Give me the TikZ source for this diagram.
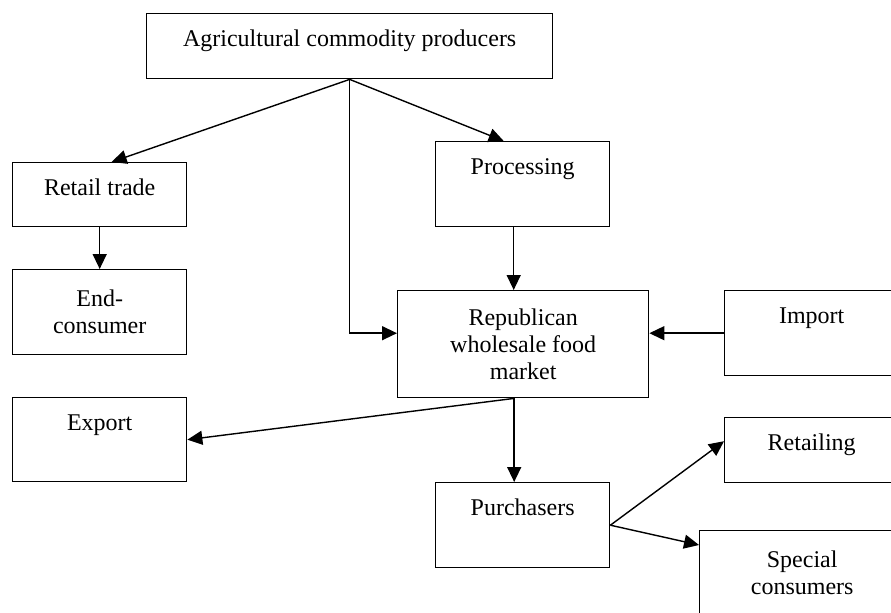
\documentclass[tikz,border=0pt]{standalone}
\usepackage{fontspec}
\setmainfont{Liberation Serif}
\usetikzlibrary{arrows.meta}
\tikzset{
    box/.style={draw, line width=0.8pt, inner sep=0pt, anchor=north west, align=center,
        font=\fontsize{13.66pt}{15.37pt}\selectfont},
    topbox/.style={box, text height=0.66cm, text depth=#1},
    arr/.style={line width=0.8pt, -{Triangle[length=0.3cm, width=0.28cm]}}
}

\begin{document}
\begin{tikzpicture}[x=0.02cm, y=-0.02cm]
    \clip (0,0) rectangle (891,612);

    % boxes
    \node[topbox=0.64cm, minimum width=8.12cm] (prod) at (146,13) {Agricultural commodity producers};
    \node[topbox=0.62cm, minimum width=3.48cm] (retail) at (12,162) {Retail trade};
    \node[box, minimum width=3.48cm, minimum height=1.7cm] (endcons) at (12,269) {End-\\consumer};
    \node[topbox=1.04cm, minimum width=3.48cm] (proc) at (435,141) {Processing};
    \node[box, minimum width=5.02cm, minimum height=2.14cm] (market) at (397,290) {Republican\\wholesale food\\market};
    \node[topbox=1.04cm, minimum width=3.48cm] (import) at (724,290) {Import};
    \node[topbox=1.02cm, minimum width=3.48cm] (export) at (12,397) {Export};
    \node[topbox=1.04cm, minimum width=3.48cm] (purch) at (435,482) {Purchasers};
    \node[topbox=0.64cm, minimum width=3.48cm] (retailing) at (724,417) {Retailing};
    \node[box, minimum width=4.1cm, minimum height=1.68cm] (special) at (699,530) {Special\\consumers};

    % flows
    \draw[arr] (prod.south) -- ([xshift=0.24cm]retail.north);
    \draw[arr] (prod.south) -- ([xshift=-0.38cm]proc.north);
    \draw[arr] (prod.south) |- (import.west -| market.west);
    \draw[arr] (retail.south -| endcons.north) -- (endcons.north);
    \draw[arr] ([xshift=-0.18cm]proc.south) -- ([xshift=-0.18cm]proc.south |- market.north);
    \draw[arr] (import.west) -- (import.west -| market.east);
    \draw[arr] ([xshift=-0.18cm]market.south) -- (export.east);
    \draw[arr] ([xshift=-0.18cm]market.south) -- ([xshift=-0.18cm]market.south |- purch.north);
    \draw[arr] (purch.east) -- ([yshift=0.18cm]retailing.west);
    \draw[arr] (purch.east) -- ([yshift=-0.3cm]special.north west);
\end{tikzpicture}
\end{document}
